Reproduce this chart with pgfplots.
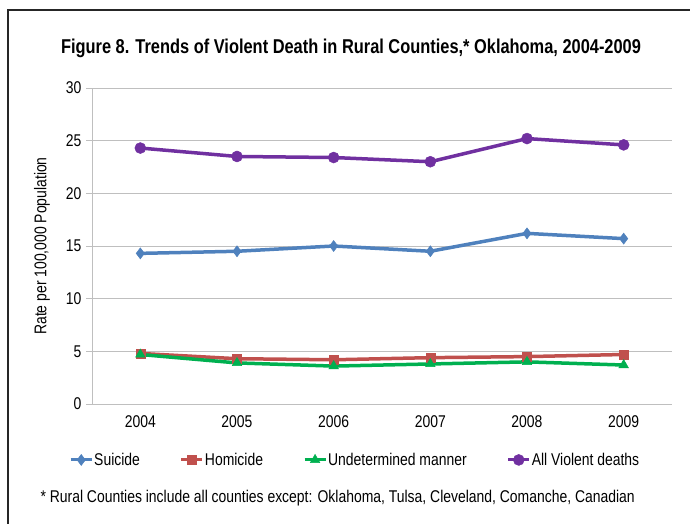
\documentclass[border=0pt]{standalone}
\usepackage{fontspec}
\setmainfont[FakeStretch=0.82]{Liberation Sans}
\usepackage{pgfplots}
\pgfplotsset{compat=1.18}
\definecolor{cSui}{HTML}{4F81BD}
\definecolor{cHom}{HTML}{C0504D}
\definecolor{cUnd}{HTML}{00B050}
\definecolor{cAll}{HTML}{7030A0}
\definecolor{gridc}{HTML}{BFBFBF}
\begin{document}
\begin{tikzpicture}[x=1pt,y=1pt]
\useasboundingbox (0,0) rectangle (690,-524);
\draw[black!85, line width=1.3pt] (8,-540) -- (8,-10) -- (700,-10);
\node[font=\fontsize{20}{24}\selectfont\bfseries] at (351,-48) {Figure 8. Trends of Violent Death in Rural Counties,* Oklahoma, 2004-2009};
\node[font=\fontsize{17}{20}\selectfont, anchor=west] at (37,-498) {* Rural Counties include all counties except: Oklahoma, Tulsa, Cleveland, Comanche, Canadian};
\begin{axis}[
  at={(92pt,-404pt)}, anchor=south west,
  scale only axis, width=580pt, height=316pt,
  xmin=-0.5, xmax=5.5, ymin=0, ymax=30,
  xtick={0,1,2,3,4,5}, xticklabels={2004,2005,2006,2007,2008,2009},
  extra x ticks={-0.5,0.5,1.5,2.5,3.5,4.5,5.5}, extra x tick labels={},
  extra x tick style={major tick length=6pt, tick style={gridc, line width=0.8pt}, tick align=outside},
  xtick style={draw=none},
  ytick={0,5,...,30},
  ytick style={gridc, line width=0.8pt}, major tick length=6pt, tick align=outside,
  ymajorgrids, grid style={gridc, line width=0.8pt},
  axis x line*=bottom, axis y line*=left,
  axis line style={gridc, line width=0.8pt},
  separate axis lines, x axis line style={-}, y axis line style={-},
  tick label style={font=\fontsize{17}{20}\selectfont},
  /pgf/number format/assume math mode=true,
  ylabel={Rate per 100,000 Population},
  ylabel style={font=\fontsize{17}{20}\selectfont, at={(-50pt,0.5)}, anchor=center},
  yticklabel style={xshift=-1pt},
  xticklabel style={yshift=-2pt},
  legend columns=4,
  legend style={draw=none, fill=none, at={(0.453,-0.177)}, anchor=center,
    font=\fontsize{17}{20}\selectfont,
    /tikz/every odd column/.append style={column sep=0pt},
    /tikz/every even column/.append style={column sep=39pt},
    nodes={inner xsep=1pt}},
  legend image code/.code={
    \draw[#1, line width=3pt, mark=none] (0pt,0pt) -- (21pt,0pt);
    \draw[#1, mark repeat=1] plot coordinates {(10.5pt,0pt)};
  },
  every axis plot/.append style={line width=3.5pt},
]
\addplot[color=cSui, mark=diamond*, mark size=5.5pt, mark options={line width=0.5pt}] coordinates {(0,14.3) (1,14.5) (2,15.0) (3,14.5) (4,16.2) (5,15.7)};
\addlegendentry{Suicide}
\addplot[color=cHom, mark=square*, mark size=4.5pt, mark options={line width=0.5pt}] coordinates {(0,4.8) (1,4.3) (2,4.2) (3,4.4) (4,4.5) (5,4.7)};
\addlegendentry{Homicide}
\addplot[color=cUnd, mark=triangle*, mark size=5.5pt, mark options={line width=0.5pt}] coordinates {(0,4.7) (1,3.9) (2,3.6) (3,3.8) (4,4.0) (5,3.7)};
\addlegendentry{Undetermined manner}
\addplot[color=cAll, mark=*, mark size=5.5pt, mark options={line width=0.5pt}] coordinates {(0,24.3) (1,23.5) (2,23.4) (3,23.0) (4,25.2) (5,24.6)};
\addlegendentry{All Violent deaths}
\end{axis}
\end{tikzpicture}
\end{document}
